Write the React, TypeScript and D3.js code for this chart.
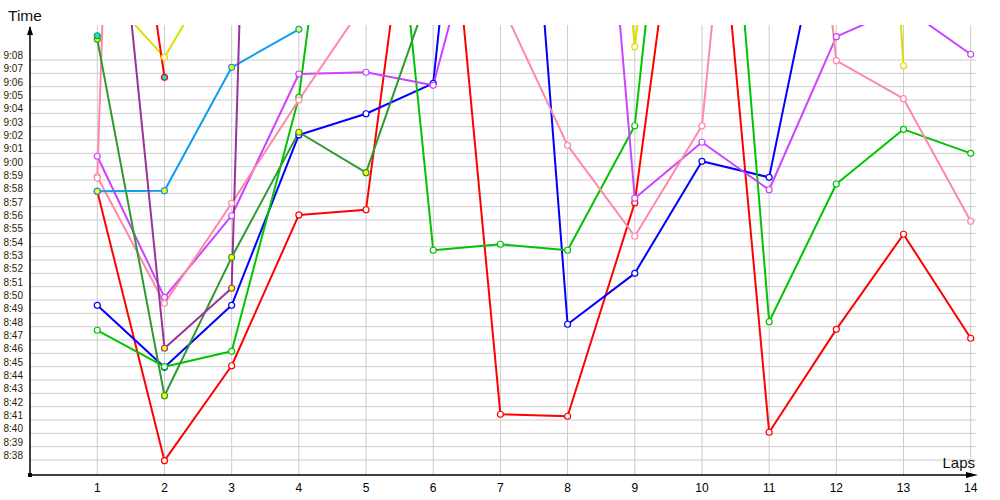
import React from "react";
import * as d3 from "d3";

// lap times in seconds (9:00 = 540), null = no lap
const laps = [1, 2, 3, 4, 5, 6, 7, 8, 9, 10, 11, 12, 13, 14];
const timeTicks = d3.range(518, 549);

const red = [538.15, 517.95, 525.07, 536.38, 536.77, 575.0, 521.43, 521.28, 537.3, 575.0, 520.08, 527.8, 534.93, 527.13];
const blue = [529.6, 524.95, 529.6, 542.38, 543.97, 546.25, 593.9, 528.18, 532.0, 540.4, 539.2, 563.6, null, null];
const green = [527.73, 525.0, 526.15, 545.2, 583.55, 533.73, 534.18, 533.73, 543.07, 589.63, 528.37, 538.7, 542.8, 541.0];
const magenta = [540.78, 530.2, 536.32, 546.95, 547.08, 546.1, 565.0, 596.9, 537.63, 541.83, 538.27, 549.75, 551.98, 548.43];
const pink = [539.25, 529.75, 537.25, 545.0, 552.43, 560.0, 552.35, 541.6, 534.78, 543.07, 593.75, 547.95, 545.1, 535.9];
const pink2 = [539.15, 692.0, null, null, null, null, null, null, null, null, null, null, null, null];
const yellow = [553.75, 548.2, 556.75, 568.0, 572.0, 566.0, 580.0, 603.5, 549.0, 590.9, 600.0, 626.2, 547.57, null];
const darkGreen = [549.55, 522.82, 533.2, 542.58, 539.55, 553.99, null, null, null, null, null, null, null, null];
const lightBlue = [538.15, 538.2, 547.45, 550.3, null, null, null, null, null, null, null, null, null, null];
const purple = [576.2, 526.38, 530.88, 702.7, null, null, null, null, null, null, null, null, null, null];
const red2 = [581.45, 546.7, null, null, null, null, null, null, null, null, null, null, null, null];
const extra = [549.82, null, null, null, null, null, null, null, null, null, null, null, null, null];

const series = [
  { name: "red", values: red, color: "#ff0000", fill: "#ffffff" },
  { name: "blue", values: blue, color: "#0000ff", fill: "#ffffff" },
  { name: "green", values: green, color: "#00c400", fill: "#ffffff" },
  { name: "magenta", values: magenta, color: "#cc44ff", fill: "#ffffff" },
  { name: "pink", values: pink, color: "#ff88aa", fill: "#ffffff" },
  { name: "pink2", values: pink2, color: "#ff88aa", fill: "#ffffff" },
  { name: "yellow", values: yellow, color: "#dddd00", fill: "#ffffff" },
  { name: "darkGreen", values: darkGreen, color: "#2e9a2e", fill: "#ffff00" },
  { name: "lightBlue", values: lightBlue, color: "#109cee", fill: "#ffff00" },
  { name: "purple", values: purple, color: "#993399", fill: "#ffff00" },
  { name: "red2", values: red2, color: "#ff0000", fill: "#00e8e8" },
  { name: "extra", values: extra, color: "#2e9a2e", fill: "#00e8e8" },
];

const left = 30;
const top = 25;
const bottom = 475;
const right = 978;

const fmt = (v: number) => `${Math.floor(v / 60)}:${String(v % 60).padStart(2, "0")}`;

export default function App() {
  const x = d3.scaleLinear().domain([0, 14]).range([30.1, 970.7]);
  const y = d3.scaleLinear().domain([516.875, 550.625]).range([bottom, top]);

  const line = d3
    .line<number | null>()
    .defined((d) => d !== null)
    .x((_, i) => x(laps[i]))
    .y((d) => y(d as number));

  const font = "'Liberation Sans', Arial, sans-serif";

  return (
    <svg width={1000} height={500} style={{ position: "absolute", left: 0, top: 0, background: "#fff" }}>
      <defs>
        <clipPath id="plot">
          <rect x={left} y={top} width={right - left} height={bottom - top} />
        </clipPath>
      </defs>
      {/* grid */}
      {timeTicks.map((t) => (
        <line key={"h" + t} x1={left} x2={976} y1={y(t)} y2={y(t)} stroke="#cccccc" strokeWidth={1} />
      ))}
      {laps.map((l) => (
        <line key={"v" + l} x1={x(l)} x2={x(l)} y1={top} y2={bottom} stroke="#cccccc" strokeWidth={1} />
      ))}
      {/* y labels */}
      {timeTicks.map((t) => (
        <text key={"yl" + t} x={23} y={y(t) - 1} textAnchor="end" fontFamily={font} fontSize={10} fill="#2a1c00">
          {fmt(t)}
        </text>
      ))}
      {/* x labels */}
      {laps.map((l) => (
        <text key={"xl" + l} x={x(l)} y={492} textAnchor="middle" fontFamily={font} fontSize={12} fill="#000">
          {l}
        </text>
      ))}
      {/* lines */}
      <g clipPath="url(#plot)">
        {series.map((s) => (
          <path key={s.name} d={line(s.values) || ""} fill="none" stroke={s.color} strokeWidth={2} strokeLinejoin="round" />
        ))}
      </g>
      {/* markers */}
      {series.map((s) => (
        <g key={"m" + s.name}>
          {s.values.map((v, i) =>
            v !== null && v <= 550.4 ? (
              <circle key={i} cx={x(laps[i])} cy={y(v)} r={3} fill={s.fill} stroke={s.color} strokeWidth={1.2} />
            ) : null
          )}
        </g>
      ))}
      {/* axes */}
      <line x1={left} x2={left} y1={top + 2} y2={bottom} stroke="#000" strokeWidth={1.5} />
      <line x1={left} x2={right - 8} y1={bottom} y2={bottom} stroke="#000" strokeWidth={1.5} />
      <path d={`M${left},${top + 1} L${left - 3},${top + 10} L${left + 3},${top + 10} Z`} fill="#000" />
      <path d={`M${right},${bottom} L${right - 12},${bottom - 3} L${right - 12},${bottom + 3} Z`} fill="#000" />
      <rect x={left - 2} y={bottom - 2} width={4} height={4} fill="#000" />
      <text x={8} y={21} fontFamily={font} fontSize={15.5} fill="#111">
        Time
      </text>
      <text x={975} y={468} textAnchor="end" fontFamily={font} fontSize={15} fill="#111">
        Laps
      </text>
    </svg>
  );
}
